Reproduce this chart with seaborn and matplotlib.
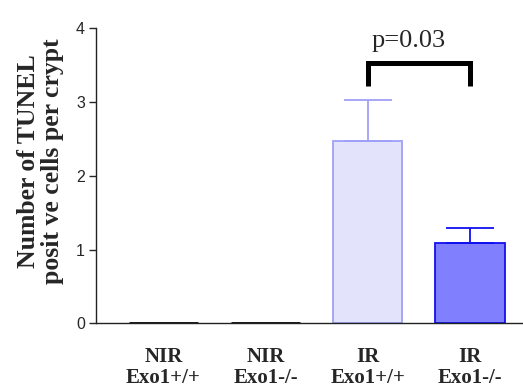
import matplotlib
matplotlib.use("Agg")
import matplotlib.pyplot as plt
import seaborn as sns
import numpy as np

groups = ["NIR\nExo1+/+", "NIR\nExo1-/-", "IR\nExo1+/+", "IR\nExo1-/-"]
means = [0.0, 0.0, 2.47, 1.09]
errors = [0.0, 0.0, 0.56, 0.20]
fills = ["#ffffff", "#ffffff", "#e3e3fb", "#8080ff"]
edges = ["#000000", "#000000", "#a0a0f8", "#1010f0"]
yticks = [0, 1, 2, 3, 4]
p_label = "p=0.03"

sns.set_style("ticks")
plt.rcParams["font.family"] = ["Liberation Sans", "DejaVu Sans"]

fig = plt.figure(figsize=(5.23, 3.88), dpi=100)
ax = fig.add_axes([96 / 523, (388 - 323.3) / 388, (523 - 96) / 523, (323.3 - 28.3) / 388])

sns.barplot(x=groups, y=means, hue=groups, palette=fills, width=0.68,
            saturation=1, legend=False, ax=ax, errorbar=None, linewidth=1.3)
for patch, ec in zip(ax.patches, edges):
    patch.set_edgecolor(ec)
    if ec == "#000000":
        patch.set_linewidth(2.0)

# upper error bars only
xs = np.arange(len(groups))
for x, m, e, ec in zip(xs, means, errors, edges):
    if e > 0:
        ax.errorbar(x, m, yerr=[[0], [e]], fmt="none", ecolor=ec,
                    elinewidth=1.3, capsize=17, capthick=1.3, zorder=1)

ax.set_xlim(-0.66, 3.52)
ax.set_ylim(0, 4)
ax.set_yticks(yticks)
ax.set_yticklabels([str(t) for t in yticks], fontsize=11.5)
ax.tick_params(axis="y", length=5, width=1, pad=3)
ax.tick_params(axis="x", length=0, pad=17)
for lab in ax.get_xticklabels():
    lab.set_fontfamily("Liberation Serif")
    lab.set_fontweight("bold")
    lab.set_fontsize(15)
    lab.set_linespacing(1.05)

ax.set_ylabel("Number of TUNEL\nposit ve cells per crypt", fontfamily="Liberation Serif",
              fontweight="bold", fontsize=18.5, linespacing=1.05)
ax.yaxis.set_label_coords(-0.075, 0.55)

sns.despine(ax=ax)
for s in ["left", "bottom"]:
    ax.spines[s].set_linewidth(1.0)
    ax.spines[s].set_color("#222222")

# significance bracket
y_top, y_leg = 3.53, 3.22
ax.plot([2, 2, 3, 3], [y_leg, y_top, y_top, y_leg], color="black", lw=3.6,
        solid_joinstyle="miter", solid_capstyle="butt", clip_on=False)
ax.text(2.4, 3.68, p_label, ha="center", va="bottom", fontsize=19,
        fontfamily="Liberation Serif")

fig.savefig("out.png", dpi=100)
